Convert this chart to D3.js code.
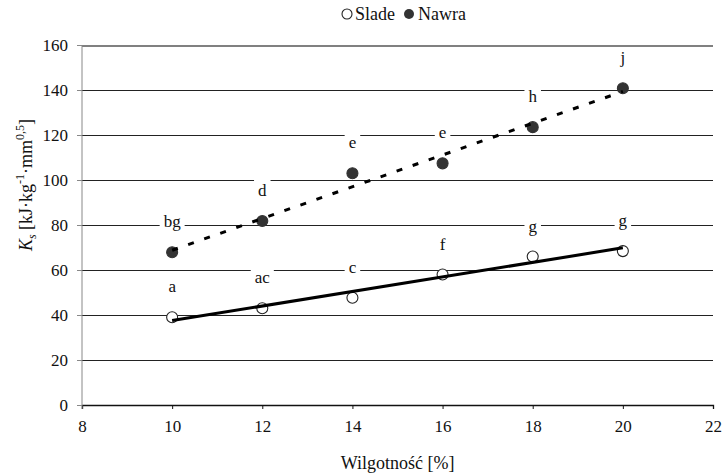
<!DOCTYPE html>
<html>
<head>
<meta charset="utf-8">
<script src="https://cdn.jsdelivr.net/npm/d3@7"></script>
<style>
  body { margin: 0; background: #fff; }
  svg text { font-family: "Liberation Serif", "Times New Roman", serif !important; fill: #111; }
</style>
</head>
<body>
<div id="chart"></div>
<script>
// values
const moisture = [10, 12, 14, 16, 18, 20];
const sladeKs = [39, 43, 47.7, 58, 66, 68.4];
const nawraKs = [67.9, 81.8, 103, 107.4, 123.5, 140.8];
const sladeLetters = ["a", "ac", "c", "f", "g", "g"];
const nawraLetters = ["bg", "d", "e", "e", "h", "j"];
const xTicks = [8, 10, 12, 14, 16, 18, 20, 22];
const yTicks = [0, 20, 40, 60, 80, 100, 120, 140, 160];

const width = 722, height = 476;
const svg = d3.select("#chart").append("svg")
    .attr("width", width)
    .attr("height", height);

const x = d3.scaleLinear().domain([8, 22]).range([82, 713]);
const y = d3.scaleLinear().domain([0, 160]).range([405, 45]);

// gridlines
svg.append("g")
    .attr("shape-rendering", "crispEdges")
    .selectAll("line")
    .data(yTicks.filter(d => d > 0))
    .enter().append("line")
    .attr("x1", x(8)).attr("x2", x(22))
    .attr("y1", d => y(d) + 0.5).attr("y2", d => y(d) + 0.5)
    .attr("stroke", d => d === 160 ? "#808080" : "#222")
    .attr("stroke-width", d => d === 160 ? 2 : 1);

// axes
const xAxis = svg.append("g")
    .attr("transform", `translate(0,${y(0)})`)
    .call(d3.axisBottom(x).tickValues(xTicks).tickSize(4).tickPadding(11).tickFormat(d3.format("d")));
xAxis.select(".domain").attr("stroke", "#111").attr("stroke-width", 1.3);
xAxis.selectAll(".tick line").attr("stroke", "#111");
xAxis.selectAll("text").style("font-size", "17px");

const yAxis = svg.append("g")
    .attr("transform", `translate(${x(8)},0)`)
    .call(d3.axisLeft(y).tickValues(yTicks).tickSize(5).tickPadding(9).tickSizeOuter(0));
yAxis.select(".domain").attr("stroke", "#888").attr("d", `M0,${y(160)}V${y(0) + 4}`);
yAxis.selectAll(".tick line").attr("stroke", "#888");
yAxis.selectAll("text").style("font-size", "17px");

// least-squares trend line from the series
function fit(xs, ys) {
    const mx = d3.mean(xs), my = d3.mean(ys);
    const b = d3.sum(xs, (v, i) => (v - mx) * (ys[i] - my)) / d3.sum(xs, v => (v - mx) ** 2);
    return v => my + b * (v - mx);
}

// markers
function markers(vals, fill, stroke) {
    svg.append("g").selectAll("circle")
        .data(vals)
        .enter().append("circle")
        .attr("cx", (d, i) => x(moisture[i]))
        .attr("cy", d => y(d))
        .attr("r", 5.5)
        .attr("fill", fill)
        .attr("stroke", stroke)
        .attr("stroke-width", 1.1);
}
markers(sladeKs, "#fff", "#222");
markers(nawraKs, "#333", "#333");

const xEnds = [moisture[0], moisture[moisture.length - 1]];
const fS = fit(moisture, sladeKs), fN = fit(moisture, nawraKs);

svg.append("line")
    .attr("x1", x(xEnds[0])).attr("y1", y(fS(xEnds[0])))
    .attr("x2", x(xEnds[1])).attr("y2", y(fS(xEnds[1])))
    .attr("stroke", "#000").attr("stroke-width", 3);

svg.append("line")
    .attr("x1", x(xEnds[0])).attr("y1", y(fN(xEnds[0])))
    .attr("x2", x(xEnds[1])).attr("y2", y(fN(xEnds[1])))
    .attr("stroke", "#000").attr("stroke-width", 3)
    .attr("stroke-dasharray", "6,11");

// significance letters with white boxes
function letters(vals, labs) {
    const g = svg.append("g").selectAll("g")
        .data(vals)
        .enter().append("g")
        .attr("transform", (d, i) => `translate(${x(moisture[i])},${y(d) - 30})`);
    const t = g.append("text")
        .attr("text-anchor", "middle")
        .attr("dy", "0.3em")
        .style("font-size", "17px")
        .text((d, i) => labs[i]);
    t.each(function () {
        const w = this.getComputedTextLength();
        d3.select(this.parentNode).insert("rect", "text")
            .attr("x", -w / 2 - 4).attr("y", -11)
            .attr("width", w + 8).attr("height", 22)
            .attr("fill", "#fff");
    });
}
letters(sladeKs, sladeLetters);
letters(nawraKs, nawraLetters);

// legend
const leg = svg.append("g").attr("transform", "translate(347,14)");
leg.append("circle").attr("cx", 0).attr("cy", 0).attr("r", 5)
    .attr("fill", "#fff").attr("stroke", "#222").attr("stroke-width", 1.1);
leg.append("text").attr("x", 8).attr("dy", "0.33em").style("font-size", "18px").text("Slade");
leg.append("circle").attr("cx", 62).attr("cy", 0).attr("r", 5).attr("fill", "#333");
leg.append("text").attr("x", 71).attr("dy", "0.33em").style("font-size", "18px").text("Nawra");

// axis titles
svg.append("text")
    .attr("x", (x(8) + x(22)) / 2)
    .attr("y", 469)
    .attr("text-anchor", "middle")
    .style("font-size", "18px")
    .text("Wilgotność [%]");

const yt = svg.append("text")
    .attr("transform", "translate(32,185) rotate(-90)")
    .attr("text-anchor", "middle")
    .style("font-size", "18px");
yt.append("tspan").style("font-style", "italic").text("K");
yt.append("tspan").style("font-style", "italic").style("font-size", "12px").attr("dy", 4).text("s");
yt.append("tspan").attr("dy", -4).text(" [kJ·kg");
yt.append("tspan").style("font-size", "12px").attr("dy", -8).text("-1");
yt.append("tspan").attr("dy", 8).text("·mm");
yt.append("tspan").style("font-size", "12px").attr("dy", -8).text("0,5");
yt.append("tspan").attr("dy", 8).text("]");
</script>
</body>
</html>
